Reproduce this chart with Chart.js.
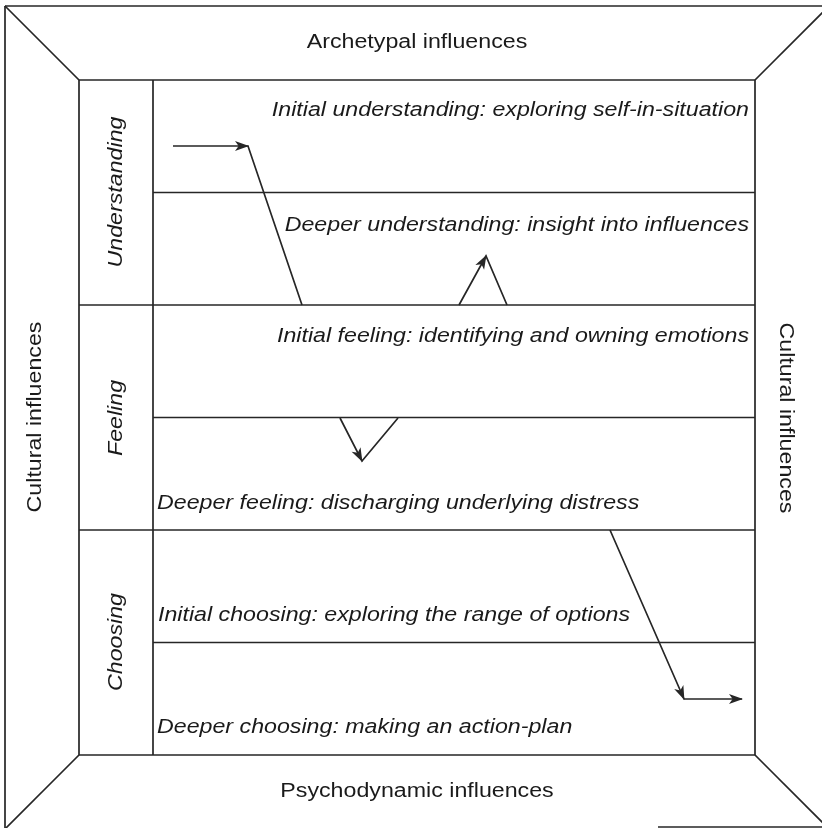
<!DOCTYPE html>
<html>
<head>
<meta charset="utf-8">
<script src="https://cdn.jsdelivr.net/npm/chart.js@4.4.1/dist/chart.umd.min.js"></script>
<style>
  html, body { margin: 0; padding: 0; background: #fff; }
  #diagram { display: block; }
</style>
</head>
<body>
<canvas id="diagram" width="822" height="828"></canvas>
<script>
/* the diagram is drawn in picture units: x 0..822, y 0..828 (y goes down) */

// frame: outer edges, inner box, corner diagonals
const frameLines = [
  [[5, 6], [822, 6]],
  [[5, 6], [5, 828]],
  [[658, 827], [822, 827]],
  [[79, 80], [755, 80], [755, 755], [79, 755], [79, 80]],
  [[5, 6], [79, 80]],
  [[829, 6], [755, 80]],
  [[79, 755], [5, 829]],
  [[755, 755], [829, 829]],
  [[153, 80], [153, 755]]
];

// row rules
const groupRules = [305, 530];            // through the label column too
const stepRules  = [192.5, 417.5, 642.5]; // only in the text area

// the route through the stages, arrowheads at the listed point indexes
const routes = [
  { pts: [[173, 146], [248, 146], [302, 305]], heads: [1] },
  { pts: [[459, 305], [486, 256], [507, 305]], heads: [1] },
  { pts: [[340, 418], [362, 461], [398, 418]], heads: [1] },
  { pts: [[610, 530], [684, 699], [742, 699]], heads: [1, 2] }
];

// text
const sideLabels  = ["Archetypal influences", "Psychodynamic influences", "Cultural influences", "Cultural influences"];
const groupLabels = ["Understanding", "Feeling", "Choosing"];
const stepLabels  = [
  "Initial understanding: exploring self-in-situation",
  "Deeper understanding: insight into influences",
  "Initial feeling: identifying and owning emotions",
  "Deeper feeling: discharging underlying distress",
  "Initial choosing: exploring the range of options",
  "Deeper choosing: making an action-plan"
];

// where the text goes
const sidePos  = [[417, 42, 0], [417, 791, 0], [35, 417, -90], [786, 418, 90]];
const groupPos = [[116, 192], [116, 418], [116, 642]];
const stepPos  = [
  [749, 110, "right"], [749, 225, "right"], [749, 336, "right"],
  [157, 503, "left"], [158, 615, "left"], [157, 727, "left"]
];

const INK = "#262626";
const FONT = "'Liberation Sans', Arial, Helvetica, sans-serif";
const WIDEN = 1.16; // the print face runs wider than Arial

function toXY(p) { return { x: p[0], y: p[1] }; }

const datasets = [];
frameLines.forEach(l => datasets.push({ data: l.map(toXY), borderWidth: 1.7 }));
groupRules.forEach(y => datasets.push({ data: [{ x: 79, y }, { x: 755, y }], borderWidth: 1.7 }));
stepRules.forEach(y => datasets.push({ data: [{ x: 153, y }, { x: 755, y }], borderWidth: 1.6 }));
routes.forEach(r => datasets.push({ data: r.pts.map(toXY), borderWidth: 1.7, heads: r.heads }));
datasets.forEach(d => {
  d.showLine = true;
  d.pointRadius = 0;
  d.borderColor = INK;
  d.fill = false;
  d.tension = 0;
  d.clip = false;
});

function drawLabel(ctx, text, x, y, rotDeg, align) {
  ctx.save();
  ctx.translate(x, y);
  ctx.rotate(rotDeg * Math.PI / 180);
  ctx.scale(WIDEN, 1);
  ctx.textAlign = align;
  ctx.fillText(text, 0, 0);
  ctx.restore();
}

const decorations = {
  id: "decorations",
  afterDatasetsDraw(chart) {
    const ctx = chart.ctx;
    const xs = chart.scales.x, ys = chart.scales.y;
    const px = v => xs.getPixelForValue(v);
    const py = v => ys.getPixelForValue(v);

    // arrowheads
    ctx.save();
    ctx.fillStyle = INK;
    chart.data.datasets.forEach(ds => {
      if (!ds.heads) return;
      ds.heads.forEach(i => {
        const a = ds.data[i - 1], b = ds.data[i];
        const x1 = px(a.x), y1 = py(a.y), x2 = px(b.x), y2 = py(b.y);
        const ang = Math.atan2(y2 - y1, x2 - x1);
        const len = 13, half = 5;
        ctx.save();
        ctx.translate(x2, y2);
        ctx.rotate(ang);
        ctx.beginPath();
        ctx.moveTo(1, 0);
        ctx.lineTo(-len, -half);
        ctx.lineTo(-len * 0.72, 0);
        ctx.lineTo(-len, half);
        ctx.closePath();
        ctx.fill();
        ctx.restore();
      });
    });

    // text
    ctx.fillStyle = "#1a1a1a";
    ctx.textBaseline = "middle";

    ctx.font = "20px " + FONT;
    sideLabels.forEach((t, i) => {
      const [x, y, rot] = sidePos[i];
      drawLabel(ctx, t, px(x), py(y), rot, "center");
    });

    ctx.font = "italic 20px " + FONT;
    groupLabels.forEach((t, i) => {
      const [x, y] = groupPos[i];
      drawLabel(ctx, t, px(x), py(y), -90, "center");
    });

    stepLabels.forEach((t, i) => {
      const [x, y, align] = stepPos[i];
      drawLabel(ctx, t, px(x), py(y), 0, align);
    });
    ctx.restore();
  }
};

new Chart(document.getElementById("diagram"), {
  type: "scatter",
  data: { datasets },
  options: {
    responsive: false,
    animation: false,
    events: [],
    layout: { padding: 0 },
    scales: {
      x: { type: "linear", min: 0, max: 822, display: false },
      y: { type: "linear", min: 0, max: 828, reverse: true, display: false }
    },
    plugins: { legend: { display: false }, tooltip: { enabled: false } }
  },
  plugins: [decorations]
});
</script>
</body>
</html>
